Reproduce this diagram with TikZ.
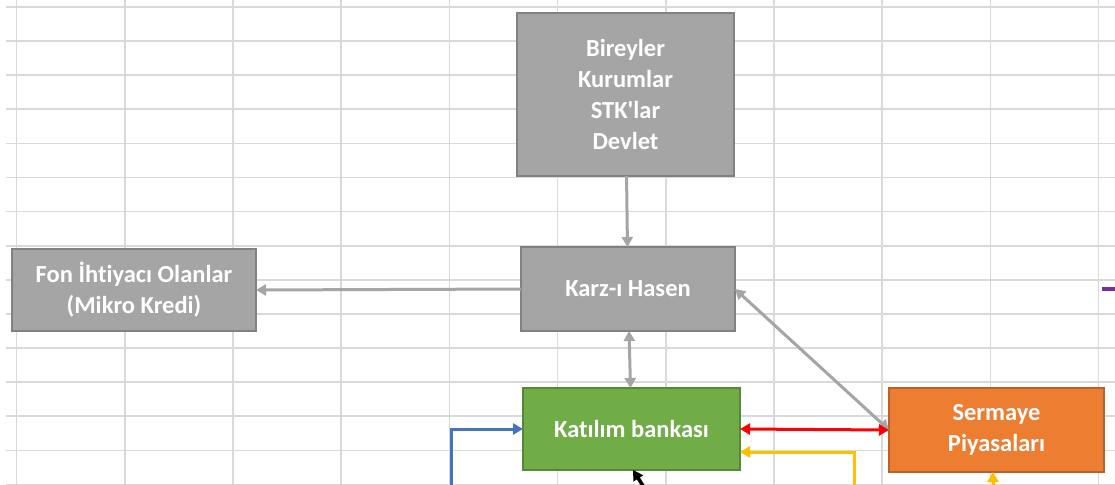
\documentclass[tikz,border=0pt]{standalone}
\usepackage{fontspec}
\setmainfont{Carlito}[Ligatures={TeXOff,CommonOff}]
\usetikzlibrary{positioning, arrows.meta, calc}
\definecolor{kutugri}{HTML}{A5A5A5}
\definecolor{kutuyesil}{HTML}{70AD47}
\definecolor{kututuruncu}{HTML}{ED7D31}
\definecolor{izgara}{HTML}{D9D9D9}
\definecolor{okkirmizi}{HTML}{FF0000}
\definecolor{oksari}{HTML}{FFC000}
\definecolor{okmavi}{HTML}{4472C4}
\definecolor{okmor}{HTML}{7030A0}

\begin{document}
\begin{tikzpicture}[x=1pt, y=-1pt,
  kutu/.style={draw=#1!78!black, fill=#1, line width=1.3pt, text=white,
    font=\fontsize{24.5}{31}\selectfont\bfseries, align=center,
    inner sep=0pt, outer sep=0pt},
  ok/.style={line width=3pt, draw=#1, -{Triangle[length=10pt, width=11pt]}},
  ciftok/.style={ok=#1, {Triangle[length=10pt, width=11pt]}-{Triangle[length=10pt, width=11pt]}}]
  \useasboundingbox (0,0) rectangle (1115,484);
  \clip (0,0) rectangle (1115,484);
  \fill[white] (0,0) rectangle (1115,484);

  % tablo izgarasi
  \foreach \i in {0,...,10}
    \draw[izgara, line width=1.6pt] (16.5+108.2*\i,0) -- (16.5+108.2*\i,484);
  \foreach \j in {0,...,14}
    \draw[izgara, line width=1.6pt] (6,7+34.1*\j) -- (1115,7+34.1*\j);

  % kutular
  \node[kutu=kutugri, minimum width=217pt, minimum height=163pt] (kaynak) at (625.5,94.5)
    {Bireyler\\Kurumlar\\STK'lar\\Devlet};
  \node[kutu=kutugri, minimum width=214pt, minimum height=84pt] (karz) at (628,289)
    {Karz-ı Hasen};
  \node[kutu=kutugri, minimum width=244pt, minimum height=82pt] (fon) at (134,290)
    {Fon İhtiyacı Olanlar\\(Mikro Kredi)};
  \node[kutu=kutuyesil, minimum width=217pt, minimum height=82pt] (katilim) at (631.5,429)
    {Katılım bankası};
  \node[kutu=kututuruncu, minimum width=215pt, minimum height=84pt] (sermaye) at (996.5,430)
    {Sermaye\\Piyasaları};

  % serbest uclar
  \coordinate (mavialt) at (451,500);
  \coordinate (sarialt) at (854,500);
  \coordinate (sarisag) at (993,500);
  \coordinate (siyahalt) at (652,500);
  \coordinate (morbas) at (1102,289);
  \coordinate (morson) at (1130,289);

  % oklar
  \draw[ok=kutugri] (kaynak) -- (karz);
  \draw[ok=kutugri] (karz.west) -- (fon.east);
  \draw[ciftok=kutugri] (karz) -- (katilim);
  \draw[ciftok=kutugri] (karz.east) -- (sermaye.west);
  \draw[ciftok=okkirmizi] (katilim.east) -- (sermaye.west);
  \draw[ok=oksari] (sarialt) |- ([yshift=-23pt]katilim.east);
  \draw[ok=okmavi] (mavialt) |- (katilim.west);
  \draw[ok=black, line width=3.5pt] (siyahalt) -- ([xshift=1.5pt]katilim.south);
  \draw[ok=oksari] (sarisag) -- (sarisag |- sermaye.south);
  \draw[okmor, line width=3.5pt] (morbas) -- (morson);
\end{tikzpicture}
\end{document}
